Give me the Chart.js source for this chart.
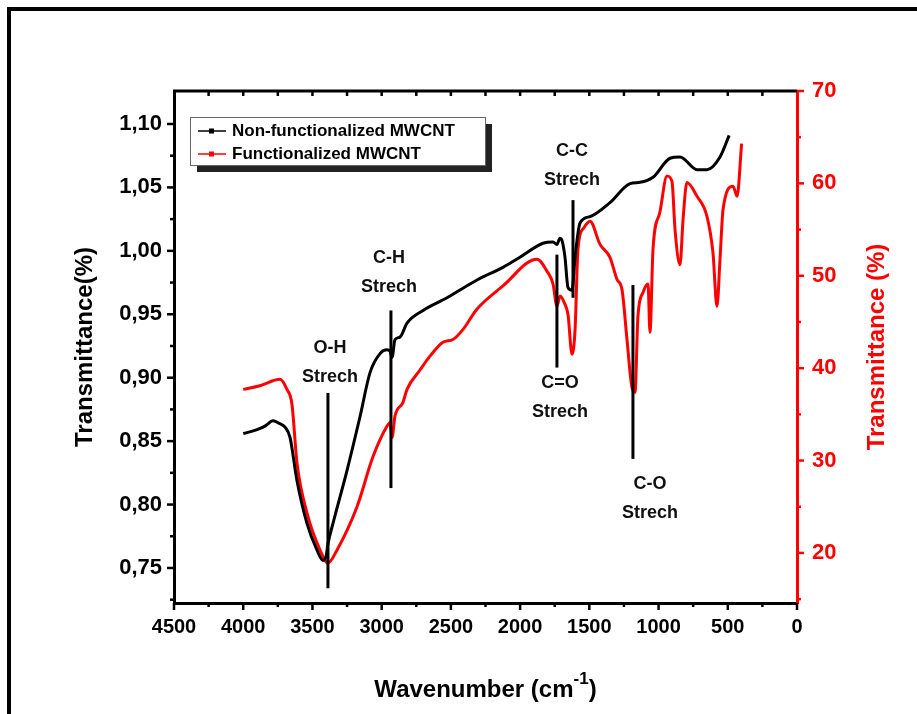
<!DOCTYPE html>
<html>
<head>
<meta charset="utf-8">
<script src="https://cdn.jsdelivr.net/npm/chart.js@4.4.0/dist/chart.umd.min.js"></script>
<style>
  html, body { margin: 0; padding: 0; background: #fff; }
  #wrap { width: 917px; height: 714px; position: relative; }
</style>
</head>
<body>
<div id="wrap"><canvas id="ftir"></canvas></div>
<script>
// FTIR spectra
const seriesNames = ['Non-functionalized MWCNT', 'Functionalized MWCNT'];

// non-functionalized (left axis)
const plainWave = [4000, 3900, 3840, 3785, 3740, 3698, 3662, 3612, 3539, 3467, 3424, 3400, 3388, 3352, 3250, 3157,
  3084, 3012, 2962, 2940, 2925, 2904, 2868, 2817, 2701, 2528, 2311, 2124, 2001, 1835, 1762, 1734, 1712, 1697,
  1676, 1654, 1625, 1603, 1567, 1495, 1351, 1206, 1134, 1040, 917, 845, 722, 650, 556, 490];
const plainT = [0.856, 0.859, 0.862, 0.866, 0.864, 0.861, 0.853, 0.819, 0.785, 0.764, 0.756, 0.760, 0.769, 0.785, 0.827, 0.869,
  0.904, 0.919, 0.922, 0.921, 0.916, 0.930, 0.932, 0.943, 0.953, 0.963, 0.977, 0.987, 0.995, 1.006, 1.007, 1.005, 1.010, 1.008,
  0.995, 0.971, 0.969, 0.995, 1.022, 1.027, 1.038, 1.053, 1.054, 1.058, 1.073, 1.074, 1.064, 1.064, 1.074, 1.091];

// functionalized (right axis)
const funcWave = [4000, 3879, 3734, 3684, 3648, 3612, 3539, 3445, 3388, 3323, 3178, 3063, 2962, 2940, 2925, 2904,
  2846, 2817, 2723, 2651, 2557, 2485, 2412, 2311, 2124, 1878, 1806, 1762, 1734, 1712, 1676, 1654, 1625, 1603,
  1582, 1539, 1495, 1423, 1351, 1300, 1264, 1228, 1192, 1170, 1149, 1112, 1076, 1062, 1040, 990, 939, 903,
  881, 845, 823, 795, 722, 650, 607, 578, 556, 534, 462, 433, 400];
const funcT = [37.7, 38.1, 38.8, 37.7, 36.1, 29.8, 24.3, 20.3, 18.9, 20.3, 25.0, 30.4, 33.7, 34.1, 32.5, 34.8,
  36.3, 37.7, 39.8, 41.3, 42.8, 43.1, 44.2, 46.4, 48.9, 51.8, 50.5, 49.1, 46.7, 47.8, 46.9, 45.8, 41.5, 44.2,
  52.9, 55.2, 55.9, 53.4, 52.0, 49.6, 48.5, 43.1, 37.9, 37.4, 45.6, 48.2, 49.1, 43.9, 52.9, 56.9, 60.8, 60.2,
  55.0, 51.2, 56.1, 60.1, 58.6, 56.4, 52.5, 46.7, 51.8, 57.2, 59.7, 58.6, 64.3];

// axis ticks
const xTicks = [0, 500, 1000, 1500, 2000, 2500, 3000, 3500, 4000, 4500];
const leftTicks = [0.75, 0.80, 0.85, 0.90, 0.95, 1.00, 1.05, 1.10];
const rightTicks = [20, 30, 40, 50, 60, 70];

// band assignments: marker line (wavenumber, left-axis span) and label anchor
const bandNames = ['O-H', 'C-H', 'C=O', 'C-C', 'C-O'];
const bandWave = [3388, 2933, 1734, 1618, 1185];
const bandTop = [0.888, 0.953, 0.997, 1.040, 0.973];
const bandBottom = [0.734, 0.813, 0.908, 0.963, 0.836];
const labelWave = [3373, 2947, 1712, 1625, 1062];
const labelT = [0.923, 0.994, 0.896, 1.079, 0.816];

const FONT = '"Liberation Sans", Arial, sans-serif';
const RED = '#ff0000';

const toPoints = (xs, ys) => xs.map((x, i) => ({ x: x, y: ys[i] }));

const decorations = {
  id: 'decorations',
  afterDraw(chart) {
    const { ctx, chartArea: a } = chart;
    const { x, y, y2 } = chart.scales;
    ctx.save();

    // page frame (top + left)
    ctx.strokeStyle = '#000';
    ctx.lineWidth = 4;
    ctx.beginPath();
    ctx.moveTo(9, 714); ctx.lineTo(9, 9); ctx.lineTo(917, 9);
    ctx.stroke();

    // top border of the plot with inward ticks
    ctx.lineWidth = 3;
    ctx.beginPath();
    ctx.moveTo(a.left - 1, a.top); ctx.lineTo(a.right, a.top);
    ctx.stroke();
    ctx.lineWidth = 2.5;
    for (let v = 250; v < 4500; v += 250) {
      const px = x.getPixelForValue(v);
      ctx.beginPath(); ctx.moveTo(px, a.top); ctx.lineTo(px, a.top + 5); ctx.stroke();
    }

    // bottom ticks
    for (let v = 0; v <= 4500; v += 250) {
      const px = x.getPixelForValue(v);
      const len = v % 500 === 0 ? 7 : 4;
      ctx.beginPath(); ctx.moveTo(px, a.bottom); ctx.lineTo(px, a.bottom + len); ctx.stroke();
    }

    // left ticks
    for (let i = 0; i <= 15; i++) {
      const v = 0.725 + i * 0.025;
      const py = y.getPixelForValue(v);
      const len = i % 2 === 1 ? 7 : 4;
      ctx.beginPath(); ctx.moveTo(a.left, py); ctx.lineTo(a.left - len, py); ctx.stroke();
    }

    // right ticks
    ctx.strokeStyle = RED;
    for (let v = 15; v <= 70; v += 5) {
      const py = y2.getPixelForValue(v);
      const len = v % 10 === 0 ? 7 : 4;
      ctx.beginPath(); ctx.moveTo(a.right, py); ctx.lineTo(a.right + len, py); ctx.stroke();
    }

    // axis titles
    ctx.font = 'bold 24px ' + FONT;
    ctx.textAlign = 'center';
    ctx.textBaseline = 'middle';
    const midY = (a.top + a.bottom) / 2;
    ctx.fillStyle = '#000';
    ctx.save();
    ctx.translate(85, midY); ctx.rotate(-Math.PI / 2);
    ctx.fillText('Transmittance(%)', 0, 0);
    ctx.restore();
    ctx.fillStyle = RED;
    ctx.save();
    ctx.translate(877, midY); ctx.rotate(-Math.PI / 2);
    ctx.fillText('Transmittance (%)', 0, 0);
    ctx.restore();

    // x title with superscript
    ctx.fillStyle = '#000';
    const main = 'Wavenumber (cm';
    ctx.font = 'bold 24px ' + FONT;
    const w1 = ctx.measureText(main).width;
    const w3 = ctx.measureText(')').width;
    ctx.font = 'bold 17px ' + FONT;
    const w2 = ctx.measureText('-1').width;
    let tx = (a.left + a.right) / 2 - (w1 + w2 + w3) / 2;
    const ty = 690;
    ctx.textAlign = 'left';
    ctx.font = 'bold 24px ' + FONT;
    ctx.fillText(main, tx, ty);
    ctx.font = 'bold 17px ' + FONT;
    ctx.fillText('-1', tx + w1, ty - 11);
    ctx.font = 'bold 24px ' + FONT;
    ctx.fillText(')', tx + w1 + w2, ty);

    // legend with shadow
    const lx = 190, ly = 117, lw = 295, lh = 48;
    ctx.fillStyle = '#222';
    ctx.fillRect(lx + 7, ly + 7, lw, lh);
    ctx.fillStyle = '#fff';
    ctx.fillRect(lx, ly, lw, lh);
    ctx.strokeStyle = '#666';
    ctx.lineWidth = 1;
    ctx.strokeRect(lx + 0.5, ly + 0.5, lw, lh);
    ctx.font = 'bold 17px ' + FONT;
    ctx.textBaseline = 'middle';
    chart.data.datasets.forEach((ds, i) => {
      const rowY = ly + 14 + i * 23;
      ctx.strokeStyle = ds.borderColor;
      ctx.lineWidth = 1.5;
      ctx.beginPath(); ctx.moveTo(lx + 8, rowY); ctx.lineTo(lx + 36, rowY); ctx.stroke();
      ctx.fillStyle = ds.borderColor;
      ctx.fillRect(lx + 19, rowY - 2.5, 5, 5);
      ctx.fillStyle = '#000';
      ctx.fillText(ds.label, lx + 42, rowY);
    });

    ctx.restore();
  },
  afterDatasetsDraw(chart) {
    const { ctx } = chart;
    const { x, y } = chart.scales;
    ctx.save();
    ctx.strokeStyle = '#000';
    ctx.fillStyle = '#111';
    ctx.lineWidth = 3;
    ctx.font = 'bold 18px ' + FONT;
    ctx.textAlign = 'center';
    ctx.textBaseline = 'middle';
    bandNames.forEach((name, i) => {
      const px = x.getPixelForValue(bandWave[i]);
      ctx.beginPath();
      ctx.moveTo(px, y.getPixelForValue(bandTop[i]));
      ctx.lineTo(px, y.getPixelForValue(bandBottom[i]));
      ctx.stroke();
      const tx = x.getPixelForValue(labelWave[i]);
      const ty = y.getPixelForValue(labelT[i]);
      ctx.fillText(name, tx, ty);
      ctx.fillText('Strech', tx, ty + 29);
    });
    ctx.restore();
  }
};

const tickFont = { family: FONT, size: 20, weight: 'bold' };
const leftFont = { family: FONT, size: 22, weight: 'bold' };

new Chart(document.getElementById('ftir'), {
  type: 'line',
  data: {
    datasets: [
      {
        label: seriesNames[0],
        data: toPoints(plainWave, plainT),
        borderColor: '#000',
        borderWidth: 3,
        pointRadius: 0,
        cubicInterpolationMode: 'monotone',
        yAxisID: 'y'
      },
      {
        label: seriesNames[1],
        data: toPoints(funcWave, funcT),
        borderColor: RED,
        borderWidth: 3,
        pointRadius: 0,
        cubicInterpolationMode: 'monotone',
        yAxisID: 'y2'
      }
    ]
  },
  options: {
    responsive: true,
    maintainAspectRatio: false,
    devicePixelRatio: 1,
    animation: false,
    layout: { padding: { top: 91, left: 0, right: 0, bottom: 0 } },
    plugins: {
      legend: { display: false },
      tooltip: { enabled: false }
    },
    scales: {
      x: {
        type: 'linear',
        position: 'bottom',
        min: 0,
        max: 4500,
        reverse: true,
        grid: { display: true, drawOnChartArea: false, drawTicks: false },
        border: { display: true, color: '#000', width: 3 },
        ticks: { color: '#000', font: tickFont, padding: 12, maxRotation: 0, autoSkip: false,
          callback: v => String(v) },
        afterBuildTicks: s => { s.ticks = xTicks.map(v => ({ value: v })); },
        afterFit: s => { s.height = 111; }
      },
      y: {
        type: 'linear',
        position: 'left',
        min: 0.7224,
        max: 1.126,
        grid: { display: true, drawOnChartArea: false, drawTicks: false },
        border: { display: true, color: '#000', width: 3 },
        ticks: { color: '#000', font: leftFont, padding: 12,
          callback: v => v.toFixed(2).replace('.', ',') },
        afterBuildTicks: s => { s.ticks = leftTicks.map(v => ({ value: v })); },
        afterFit: s => { s.width = 174; }
      },
      y2: {
        type: 'linear',
        position: 'right',
        min: 14.58,
        max: 70,
        grid: { display: true, drawOnChartArea: false, drawTicks: false },
        border: { display: true, color: RED, width: 3 },
        ticks: { color: RED, font: leftFont, padding: 15,
          callback: v => String(v) },
        afterBuildTicks: s => { s.ticks = rightTicks.map(v => ({ value: v })); },
        afterFit: s => { s.width = 120; }
      }
    }
  },
  plugins: [decorations]
});
</script>
</body>
</html>
